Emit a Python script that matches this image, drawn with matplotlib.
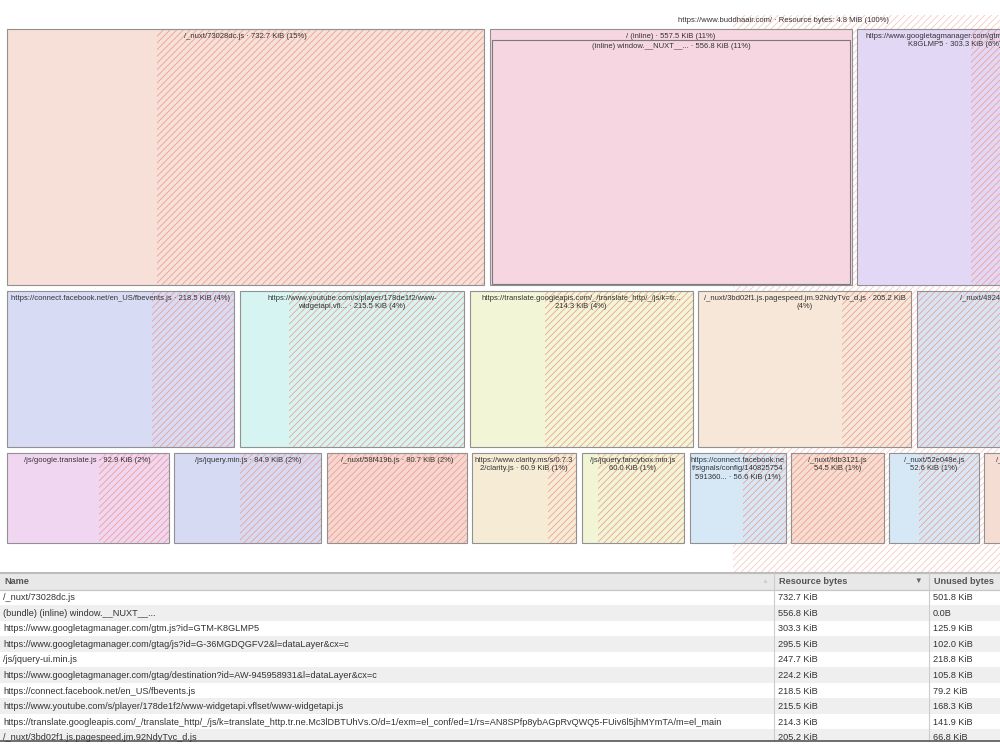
import matplotlib.pyplot as plt
from matplotlib.patches import Rectangle

plt.rcParams['font.family'] = ['Liberation Sans', 'DejaVu Sans']
plt.rcParams['hatch.linewidth'] = 0.55

# ---- data -------------------------------------------------------------
root_name = "https://www.buddhaair.com/"
root_total = 4915.2      # KiB (4.8 MiB)
root_unused = 2615.0     # KiB

# row 1 of the treemap
row1_labels = ["/_nuxt/73028dc.js · {v} KiB ({p}%)",
               "/ (inline) · {v} KiB ({p}%)",
               "https://www.googletagmanager.com/gtm.js?id=GTM-\nK8GLMP5 · {v} KiB ({p}%)"]
row1_bytes = [732.7, 557.5, 303.3]
row1_unused = [501.8, 0.0, 125.9]
row1_colors = ['#f6e0d7', '#f6d6e0', '#e2d8f5']

# child of "/ (inline)"
child_label = "(inline) window.__NUXT__... · {v} KiB ({p}%)"
child_bytes = 556.8

# row 2
row2_labels = ["https://connect.facebook.net/en_US/fbevents.js · {v} KiB ({p}%)",
               "https://www.youtube.com/s/player/178de1f2/www-\nwidgetapi.vfl... · {v} KiB ({p}%)",
               "https://translate.googleapis.com/_/translate_http/_/js/k=tr...\n{v} KiB ({p}%)",
               "/_nuxt/3bd02f1.js.pagespeed.jm.92NdyTvc_d.js · {v} KiB\n({p}%)",
               "/_nuxt/4924137.js · {v} KiB ({p}%)"]
row2_bytes = [218.5, 215.5, 214.3, 205.2, 198.0]
row2_unused = [79.2, 168.3, 141.9, 66.8, 198.0]
row2_colors = ['#d8dbf4', '#d6f4f1', '#f2f5d6', '#f6e7d8', '#d6e4f3']

# row 3
row3_labels = ["/js/google.translate.js · {v} KiB ({p}%)",
               "/js/jquery.min.js · {v} KiB ({p}%)",
               "/_nuxt/58f419b.js · {v} KiB ({p}%)",
               "https://www.clarity.ms/s/0.7.3\n2/clarity.js · {v} KiB ({p}%)",
               "/js/jquery.fancybox.min.js\n{v} KiB ({p}%)",
               "https://connect.facebook.ne\nt/signals/config/140825754\n591360... · {v} KiB ({p}%)",
               "/_nuxt/fdb3121.js\n{v} KiB ({p}%)",
               "/_nuxt/52e048e.js\n{v} KiB ({p}%)",
               "/_nuxt/7c1d09a.js\n{v} KiB ({p}%)"]
row3_bytes = [92.9, 84.9, 80.7, 60.9, 60.0, 56.6, 54.5, 52.6, 50.3]
row3_unused = [40.0, 47.0, 80.7, 16.3, 50.1, 25.1, 54.5, 35.1, 10.0]
row3_colors = ['#f1d6f2', '#d6daf3', '#f6d6cf', '#f6ecd6', '#f1f5d6',
               '#d6e8f5', '#f6ddd0', '#d6e8f5', '#f6ddd4']

# table
table_names = ["/_nuxt/73028dc.js",
               "(bundle) (inline) window.__NUXT__...",
               "https://www.googletagmanager.com/gtm.js?id=GTM-K8GLMP5",
               "https://www.googletagmanager.com/gtag/js?id=G-36MGDQGFV2&l=dataLayer&cx=c",
               "/js/jquery-ui.min.js",
               "https://www.googletagmanager.com/gtag/destination?id=AW-945958931&l=dataLayer&cx=c",
               "https://connect.facebook.net/en_US/fbevents.js",
               "https://www.youtube.com/s/player/178de1f2/www-widgetapi.vflset/www-widgetapi.js",
               "https://translate.googleapis.com/_/translate_http/_/js/k=translate_http.tr.ne.Mc3lDBTUhVs.O/d=1/exm=el_conf/ed=1/rs=AN8SPfp8ybAGpRvQWQ5-FUiv6l5jhMYmTA/m=el_main",
               "/_nuxt/3bd02f1.js.pagespeed.jm.92NdyTvc_d.js"]
table_bytes = ["732.7 KiB", "556.8 KiB", "303.3 KiB", "295.5 KiB", "247.7 KiB",
               "224.2 KiB", "218.5 KiB", "215.5 KiB", "214.3 KiB", "205.2 KiB"]
table_unused = ["501.8 KiB", "0.0B", "125.9 KiB", "102.0 KiB", "218.8 KiB",
                "105.8 KiB", "79.2 KiB", "168.3 KiB", "141.9 KiB", "66.8 KiB"]

# ---- layout -----------------------------------------------------------
AREA = 172.7      # px^2 per KiB
GAP = 5.5
HATCH_COL = '#ee9c91'
TXT = '#333333'
FS = 5.5

fig = plt.figure(figsize=(10, 7.49), dpi=100)
ax = fig.add_axes([0, 0, 1, 1])
ax.set_xlim(0, 1000)
ax.set_ylim(749, 0)
ax.axis('off')


def fmt(label, v):
    return label.format(v=f"{v:.1f}", p=round(v / root_total * 100))


def draw_leaf(x, y, w, h, val, unused, color, label):
    ax.add_patch(Rectangle((x, y), w, h, facecolor=color, edgecolor='none'))
    if unused > 0:
        hw = w * unused / val
        ax.add_patch(Rectangle((x + w - hw, y), hw, h, facecolor='none',
                               edgecolor=HATCH_COL, lw=0, hatch='/////'))
    ax.add_patch(Rectangle((x, y), w, h, fill=False, edgecolor='#919191', lw=0.8))
    ax.text(x + w / 2, y + 3.5, fmt(label, val), ha='center', va='top',
            fontsize=FS, color=TXT, linespacing=1.35)


# root box
root_w = 1566
ax.add_patch(Rectangle((0, 15), root_w, 557, facecolor='white', edgecolor='none'))
used_w = root_w * (1 - root_unused / root_total)
ax.add_patch(Rectangle((used_w, 15), root_w - used_w, 557, facecolor='none',
                       edgecolor='#f7c6bf', lw=0, hatch='/////'))
ax.text(root_w / 2, 20, f"{root_name} · Resource bytes: {root_total / 1024:.1f} MiB (100%)",
        ha='center', va='center', fontsize=FS, color=TXT)

rows = [(29, 262, row1_labels, row1_bytes, row1_unused, row1_colors),
        (291, 162, row2_labels, row2_bytes, row2_unused, row2_colors),
        (453, 96, row3_labels, row3_bytes, row3_unused, row3_colors)]

for y0, h, labels, vals, unused, colors in rows:
    x = 7
    for lab, v, u, c in zip(labels, vals, unused, colors):
        w = v * AREA / h
        draw_leaf(x, y0, w - GAP, h - GAP - 0.5, v, u, c, lab)
        x += w

# nested child in "/ (inline)"
px = 7 + row1_bytes[0] * AREA / 262
pw = row1_bytes[1] * AREA / 262 - GAP
ax.add_patch(Rectangle((px + 2, 40), pw - 4, 243.5, facecolor=row1_colors[1],
                       edgecolor='#7a7a7a', lw=0.8))
ax.text(px + pw / 2, 43, fmt(child_label, child_bytes), ha='center', va='top',
        fontsize=FS, color=TXT)

# ---- table ------------------------------------------------------------
tbl_top = 573
head_h = 16.5
row_h = 15.55
tbl_bottom = 741
col_x = [3, 778, 933]

ax.add_patch(Rectangle((0, tbl_top), 1000, head_h, facecolor='#e8e8e8', edgecolor='none'))
clip = Rectangle((0, tbl_top + head_h), 1000, tbl_bottom - tbl_top - head_h,
                 transform=ax.transData)

for i, (n, b, u) in enumerate(zip(table_names, table_bytes, table_unused)):
    yt = tbl_top + head_h + i * row_h
    bg = Rectangle((0, yt), 1000, row_h, facecolor='#efefef' if i % 2 else 'white',
                   edgecolor='none')
    ax.add_patch(bg)
    bg.set_clip_path(clip)
    for cx, s in zip(col_x, (n, b, u)):
        t = ax.text(cx, yt + row_h / 2 + 0.5, s, ha='left', va='center',
                    fontsize=6.6, color=TXT)
        t.set_clip_path(clip)

ax.plot([0, 1000], [tbl_top, tbl_top], color='#bcbcbc', lw=1.5)
ax.plot([0, 1000], [tbl_top + head_h] * 2, color='#c6c6c6', lw=0.9)
for sx in (774, 929):
    ax.plot([sx, sx], [tbl_top, tbl_bottom], color='#cccccc', lw=0.8)
ax.plot([0, 1000], [tbl_bottom, tbl_bottom], color='#555555', lw=1.2)

hy = tbl_top + head_h / 2 + 0.5
for cx, s in zip(col_x, ("Name", "Resource bytes", "Unused bytes")):
    ax.text(cx + 1, hy, s, ha='left', va='center', fontsize=6.6,
            fontweight='bold', color='#555555')
ax.text(765, hy, "▲", ha='center', va='center', fontsize=5, color='#cfcfcf')
ax.text(918, hy, "▼", ha='center', va='center', fontsize=5.5, color='#666666')

fig.savefig('out.png', dpi=100)
